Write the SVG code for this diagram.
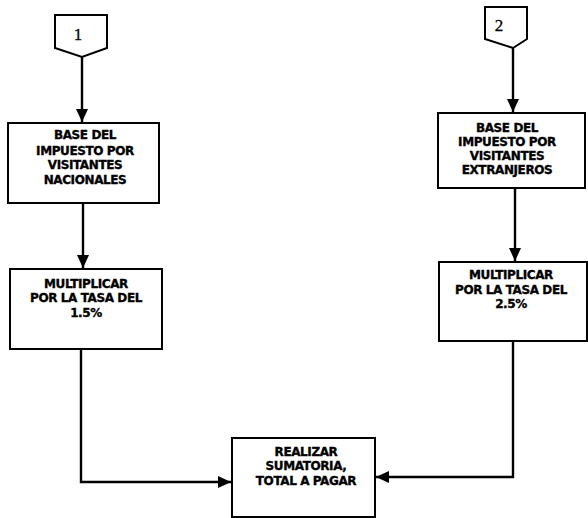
<svg xmlns="http://www.w3.org/2000/svg" width="588" height="518" viewBox="0 0 588 518">
<defs>
<style>
.box{fill:#fff;stroke:#000;stroke-width:2}
.t{font-family:"DejaVu Sans",sans-serif;font-weight:bold;font-size:12px;text-anchor:middle;fill:#000;stroke:#000;stroke-width:0.35;letter-spacing:-0.4px}
.n{font-family:"Liberation Serif",serif;font-size:17px;text-anchor:middle;fill:#000;stroke:#000;stroke-width:0.3}
.c{fill:none;stroke:#000;stroke-width:2.4}
</style>
<marker id="ah" markerUnits="userSpaceOnUse" markerWidth="13" markerHeight="12" viewBox="0 0 13 12" refX="13" refY="6" orient="auto">
<path d="M0,0 L13,6 L0,12 Z" fill="#000"/>
</marker>
</defs>
<rect width="588" height="518" fill="#fff"/>
<g id="connectors">
<path class="c" d="M82,57 V122" marker-end="url(#ah)"/>
<path class="c" d="M83,203 V268" marker-end="url(#ah)"/>
<path class="c" d="M81,349 V482 H231" marker-end="url(#ah)"/>
<path class="c" d="M513,48 V112" marker-end="url(#ah)"/>
<path class="c" d="M515,188 V261" marker-end="url(#ah)"/>
<path class="c" d="M513,341 V477 H376" marker-end="url(#ah)"/>
</g>
<g id="conn1">
<polygon class="box" points="55,15 107,15 107,48 82,57 55,48"/>
<text class="n" x="78" y="40">1</text>
</g>
<g id="conn2">
<polygon class="box" points="485,7 527,7 527,39 513,48 485,39"/>
<text class="n" x="499" y="31">2</text>
</g>
<g id="base-nac">
<rect class="box" x="8" y="123" width="151" height="80"/>
<text class="t" x="85" y="139">BASE DEL</text>
<text class="t" x="85" y="155">IMPUESTO POR</text>
<text class="t" x="85" y="169">VISITANTES</text>
<text class="t" x="85" y="184">NACIONALES</text>
</g>
<g id="mult-nac">
<rect class="box" x="10" y="269" width="152" height="80"/>
<text class="t" x="86" y="288">MULTIPLICAR</text>
<text class="t" x="86" y="302">POR LA TASA DEL</text>
<text class="t" x="86" y="317">1.5%</text>
</g>
<g id="base-ext">
<rect class="box" x="438" y="113" width="147" height="75"/>
<text class="t" x="507" y="132">BASE DEL</text>
<text class="t" x="507" y="146">IMPUESTO POR</text>
<text class="t" x="507" y="160">VISITANTES</text>
<text class="t" x="507" y="174">EXTRANJEROS</text>
</g>
<g id="mult-ext">
<rect class="box" x="439" y="262" width="148" height="79"/>
<text class="t" x="511" y="279">MULTIPLICAR</text>
<text class="t" x="511" y="294">POR LA TASA DEL</text>
<text class="t" x="511" y="308">2.5%</text>
</g>
<g id="total">
<rect class="box" x="232" y="438" width="143" height="79"/>
<text class="t" x="306" y="456">REALIZAR</text>
<text class="t" x="306" y="470">SUMATORIA,</text>
<text class="t" x="306" y="485">TOTAL A PAGAR</text>
</g>
</svg>
